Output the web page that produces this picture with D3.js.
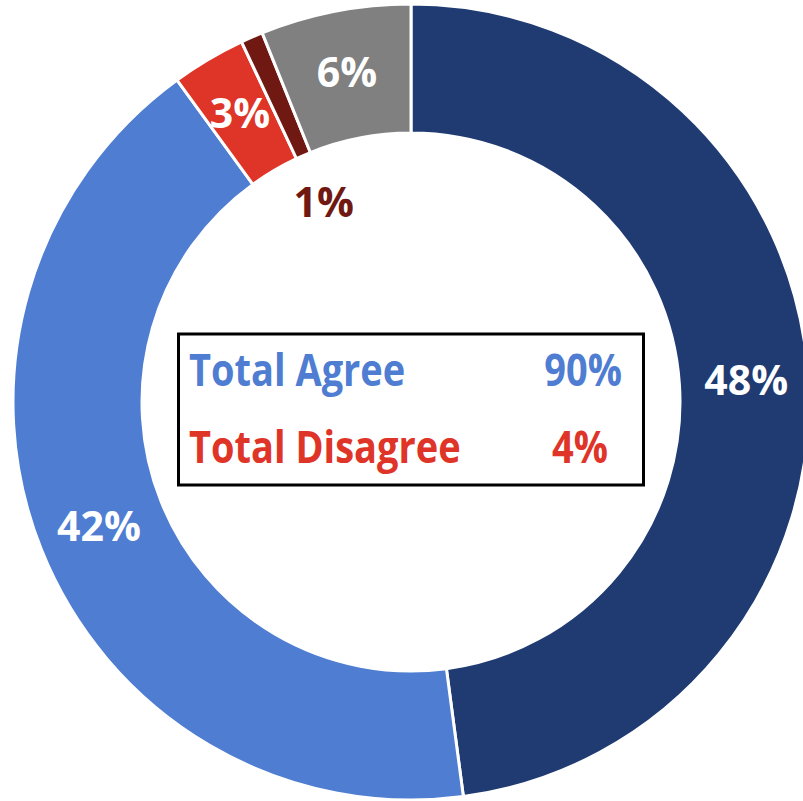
<!DOCTYPE html>
<html>
<head>
<meta charset="utf-8">
<script src="https://cdn.jsdelivr.net/npm/d3@7"></script>
<style>
  body { margin: 0; background: #fff; }
  svg { display: block; font-family: "Open Sans", sans-serif; }
</style>
</head>
<body>
<svg id="chart" width="803" height="801"></svg>
<script>
// slices, clockwise from 12 o'clock
var categories = ["Strongly Agree", "Agree", "Disagree", "Strongly Disagree", "Neutral"];
var values = [47.9, 42.1, 3.0, 0.9, 6.1];
var labels = ["48%", "42%", "3%", "1%", "6%"];
var colors = ["#1F3B72", "#4E7DD2", "#DF3428", "#701812", "#808080"];
var labelColors = ["#fff", "#fff", "#fff", "#701812", "#fff"];

// summary box
var totalNames = ["Total Agree", "Total Disagree"];
var totalValues = ["90%", "4%"];
var totalColors = ["#4E7DD2", "#DF3428"];

var svg = d3.select("#chart");

var cx = 411, cy = 402;
var outer = 398, inner = 269;

var g = svg.append("g").attr("transform", "translate(" + cx + "," + cy + ")");

var pie = d3.pie().sort(null).value(function (d) { return d; });
var arcs = pie(values);

var arc = d3.arc().innerRadius(inner).outerRadius(outer);
var labelArc = d3.arc().innerRadius(336).outerRadius(336);
var insideArc = d3.arc().innerRadius(218).outerRadius(218);

g.selectAll("path.slice")
  .data(arcs)
  .enter().append("path")
  .attr("class", "slice")
  .attr("d", arc)
  .attr("fill", function (d, i) { return colors[i]; })
  .attr("stroke", "#fff")
  .attr("stroke-width", 3);

// percentage labels (the tiny slice gets its label inside the hole)
g.selectAll("text.lbl")
  .data(arcs)
  .enter().append("text")
  .attr("class", "lbl")
  .attr("transform", function (d, i) {
    var p = (d.data < 2) ? insideArc.centroid(d) : labelArc.centroid(d);
    return "translate(" + p[0] + "," + p[1] + ")";
  })
  .attr("text-anchor", "middle")
  .attr("dy", "0.36em")
  .attr("font-size", 41)
  .attr("font-weight", 700)
  .attr("fill", function (d, i) { return labelColors[i]; })
  .text(function (d, i) { return labels[i]; });

// summary box
svg.append("rect")
  .attr("x", 178.5)
  .attr("y", 334)
  .attr("width", 465)
  .attr("height", 151)
  .attr("fill", "#fff")
  .attr("stroke", "#000")
  .attr("stroke-width", 3);

var rowY = [386, 463];

totalNames.forEach(function (name, i) {
  var row = svg.append("g")
    .attr("transform", "translate(0," + rowY[i] + ") scale(1,1.2)");

  row.append("text")
    .attr("x", 189)
    .attr("y", 0)
    .attr("font-size", 38)
    .attr("font-weight", 700)
    .attr("fill", totalColors[i])
    .text(name);

  row.append("text")
    .attr("x", i === 0 ? 622 : 608)
    .attr("y", 0)
    .attr("text-anchor", "end")
    .attr("font-size", 38)
    .attr("font-weight", 700)
    .attr("fill", totalColors[i])
    .text(totalValues[i]);
});
</script>
</body>
</html>
